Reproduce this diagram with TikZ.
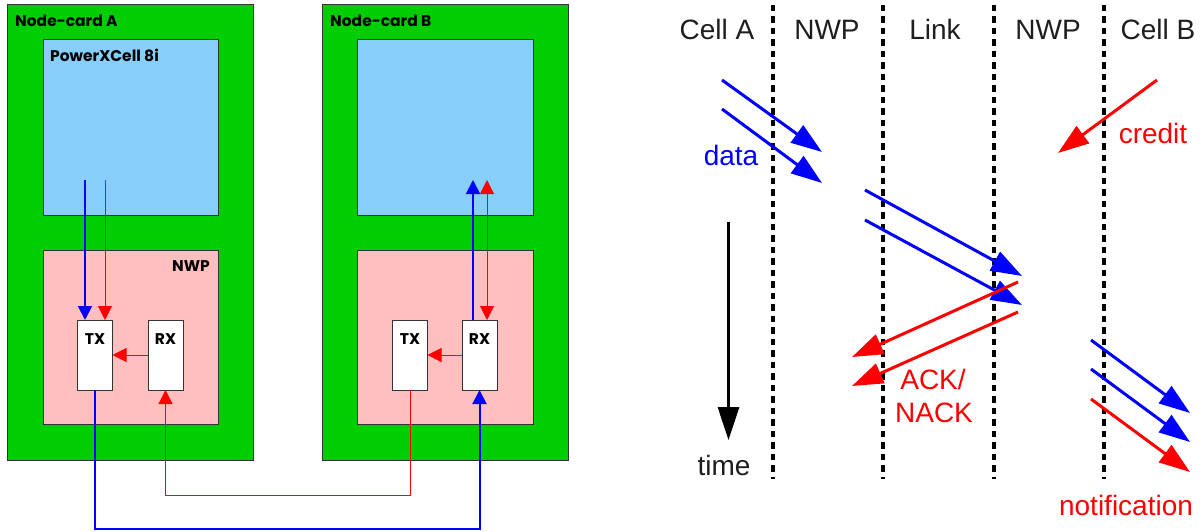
\documentclass[tikz,border=0pt]{standalone}
\usepackage{fontspec}
\setmainfont{Liberation Sans}
\newfontfamily\gothic{Poppins}
\usetikzlibrary{arrows.meta}
\definecolor{cardgreen}{RGB}{0,206,0}
\definecolor{cellblue}{RGB}{135,206,250}
\definecolor{nwppink}{RGB}{255,191,191}
\definecolor{bluec}{RGB}{0,0,255}
\definecolor{redc}{RGB}{255,0,0}
\definecolor{edge}{RGB}{51,51,51}
\definecolor{headc}{RGB}{30,30,30}
\begin{document}
\begin{tikzpicture}[x=1pt,y=-1pt,
  box/.style={draw=edge, line width=1pt, inner sep=0pt, outer sep=0pt, anchor=north west},
  card/.style={box, fill=cardgreen},
  cellbox/.style={box, fill=cellblue},
  nwpbox/.style={box, fill=nwppink},
  port/.style={box, fill=white, minimum width=35pt, minimum height=70pt},
  lbl/.style={font=\gothic\bfseries\fontsize{15.5}{17}\selectfont, inner sep=0pt, text=black},
  bwire/.style={draw=bluec, line width=2pt},
  rwire/.style={draw=redc, line width=1pt},
  stip/.style={-{Triangle[length=14pt,width=14pt]}},
  btip/.style={line width=3pt, -{Triangle[length=31pt,width=21pt]}},
  sepline/.style={draw=black, line width=3.2pt, dash pattern=on 6.5pt off 5pt},
  big/.style={font=\fontsize{28}{33}\selectfont, inner sep=0pt, anchor=base},
]
\useasboundingbox (0,0) rectangle (1201,532);
\fill[white] (0,0) rectangle (1201,532);

% ---------- left: node cards ----------
\node[card, minimum width=246pt, minimum height=455pt] (cardA) at (7,5) {};
\node[card, minimum width=246pt, minimum height=455pt] (cardB) at (322,5) {};
\node[cellbox, minimum width=175pt, minimum height=175pt] (cellA) at (43,40) {};
\node[cellbox, minimum width=176pt, minimum height=175pt] (cellB) at (357,40) {};
\node[nwpbox, minimum width=175pt, minimum height=174pt] (nwpA) at (43,250) {};
\node[nwpbox, minimum width=176pt, minimum height=174pt] (nwpB) at (357,250) {};
\node[port] (txA) at (77.5,320) {};
\node[port] (rxA) at (148,320) {};
\node[port] (txB) at (392.5,320) {};
\node[port] (rxB) at (462,320) {};

\node[lbl, anchor=base west] (lcardA) at (15,26.5) {Node-card A};
\node[lbl, anchor=base west] (lcardB) at (330,26.5) {Node-card B};
\node[lbl, anchor=base west] (lcell) at (50,61.5) {PowerXCell 8i};
\node[lbl, anchor=base east] (lnwp) at (210,271) {NWP};
\node[lbl, anchor=base] (ltxA) at (txA.north |- 0,344) {TX};
\node[lbl, anchor=base] (lrxA) at (rxA.north |- 0,344) {RX};
\node[lbl, anchor=base] (ltxB) at (txB.north |- 0,344) {TX};
\node[lbl, anchor=base] (lrxB) at (rxB.north |- 0,344) {RX};

\coordinate (aBlue) at (85,180);
\coordinate (aRed) at (105,180);
\coordinate (bBlue) at (473,180);
\coordinate (bRed) at (487,180);
\coordinate (busBlue) at (0,529);
\coordinate (busRed) at (0,495);

\draw[bwire, stip] (aBlue) -- (aBlue |- txA.north);
\draw[rwire, stip] (aRed) -- (aRed |- txA.north);
\draw[rwire, stip] (rxA.west) -- (txA.east);
\draw[rwire, stip] (rxB.west) -- (txB.east);
\draw[bwire, stip] (bBlue |- rxB.north) -- (bBlue);
\draw[rwire, {Triangle[length=14pt,width=14pt]}-{Triangle[length=14pt,width=14pt]}] (bRed) -- (bRed |- rxB.north);
\draw[bwire, stip] (txA.south) -- (txA.south |- busBlue) -| (rxB.south);
\draw[rwire, stip] (txB.south) -- (txB.south |- busRed) -| (rxA.south);

% ---------- right: timing ----------
\coordinate (v1t) at (773,5);  \coordinate (v1b) at (773,479);
\coordinate (v2t) at (883,5);  \coordinate (v2b) at (883,479);
\coordinate (v3t) at (994,5);  \coordinate (v3b) at (994,479);
\coordinate (v4t) at (1104,5); \coordinate (v4b) at (1104,479);
\draw[sepline] (v1t) -- (v1b);
\draw[sepline] (v2t) -- (v2b);
\draw[sepline] (v3t) -- (v3b);
\draw[sepline] (v4t) -- (v4b);

\node[big, text=headc] (hCellA) at (717,40) {Cell A};
\node[big, text=headc] (hNWP1) at (827,40) {NWP};
\node[big, text=headc] (hLink) at (935,40) {Link};
\node[big, text=headc] (hNWP2) at (1048,40) {NWP};
\node[big, text=headc] (hCellB) at (1158,40) {Cell B};

\coordinate (t0) at (728.5,222);
\coordinate (t1) at (728.5,440);
\draw[line width=3pt, -{Triangle[length=33pt,width=21pt]}] (t0) -- (t1);
\node[big, text=headc] (ltime) at (724,475) {time};

\coordinate (d1s) at (722,80);   \coordinate (d1e) at (822,152);
\coordinate (d2s) at (722,109);  \coordinate (d2e) at (822,183);
\draw[btip, bluec] (d1s) -- (d1e);
\draw[btip, bluec] (d2s) -- (d2e);
\node[big, text=bluec] (ldata) at (731,165) {data};

\coordinate (cs) at (1157,80);   \coordinate (ce) at (1058,153);
\draw[btip, redc] (cs) -- (ce);
\node[big, text=redc] (lcredit) at (1153,143) {credit};

\coordinate (l1s) at (865,190);  \coordinate (l1e) at (1022,276);
\coordinate (l2s) at (865,220);  \coordinate (l2e) at (1022,305);
\draw[btip, bluec] (l1s) -- (l1e);
\draw[btip, bluec] (l2s) -- (l2e);

\coordinate (a1s) at (1018,282); \coordinate (a1e) at (852,357);
\coordinate (a2s) at (1018,312); \coordinate (a2e) at (852,386);
\draw[btip, redc] (a1s) -- (a1e);
\draw[btip, redc] (a2s) -- (a2e);
\node[big, text=redc] (lack) at (933,389) {ACK/};
\node[big, text=redc] (lnack) at (934,422) {NACK};

\coordinate (n1s) at (1091,340); \coordinate (n1e) at (1190,413);
\coordinate (n2s) at (1091,369); \coordinate (n2e) at (1190,442);
\coordinate (n3s) at (1091,399); \coordinate (n3e) at (1190,472);
\draw[btip, bluec] (n1s) -- (n1e);
\draw[btip, bluec] (n2s) -- (n2e);
\draw[btip, redc] (n3s) -- (n3e);
\node[big, text=redc] (lnotif) at (1126,515) {notification};
\end{tikzpicture}
\end{document}
